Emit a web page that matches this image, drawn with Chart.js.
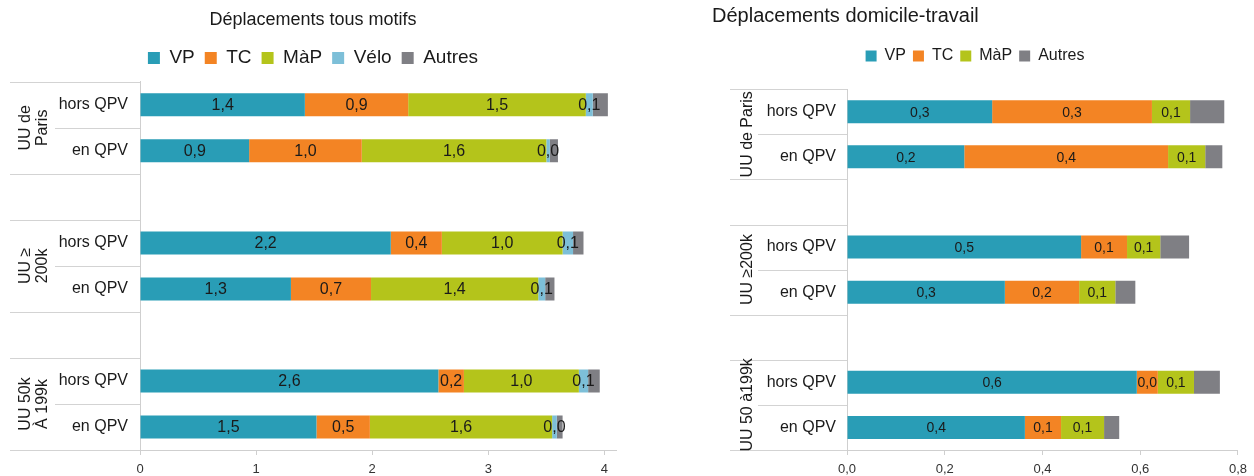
<!DOCTYPE html>
<html>
<head>
<meta charset="utf-8">
<script src="https://cdn.jsdelivr.net/npm/chart.js@4/dist/chart.umd.min.js"></script>
<style>
body { margin: 0; background: #fff; }
canvas { position: absolute; top: 0; }
</style>
</head>
<body>
<canvas id="c1" width="627" height="476" style="left:0"></canvas>
<canvas id="c2" width="554" height="476" style="left:700px"></canvas>
<script>
const categories = ['hors QPV', 'en QPV', '', 'hors QPV', 'en QPV', '', 'hors QPV', 'en QPV'];
const groupsLeft = [['UU de', 'Paris'], ['UU ≥', '200k'], ['UU 50k', 'À 199k']];
const groupsRight = [['UU de Paris'], ['UU ≥200k'], ['UU 50 à199k']];
const names = ['VP', 'TC', 'MàP', 'Vélo', 'Autres'];
const colors = ['#299db6', '#f38424', '#b4c41b', '#7dbfd8', '#7f7f84'];

// Déplacements tous motifs
const vp = [1.42, 0.94, null, 2.16, 1.30, null, 2.57, 1.52];
const tc = [0.89, 0.97, null, 0.44, 0.69, null, 0.22, 0.46];
const map = [1.53, 1.59, null, 1.04, 1.44, null, 0.99, 1.57];
const velo = [0.06, 0.03, null, 0.09, 0.06, null, 0.08, 0.04];
const autres = [0.13, 0.07, null, 0.09, 0.08, null, 0.10, 0.05];
const ticksLeft = [0, 1, 2, 3, 4];

// Déplacements domicile-travail
const vp2 = [0.297, 0.24, null, 0.479, 0.323, null, 0.593, 0.364];
const tc2 = [0.327, 0.417, null, 0.094, 0.152, null, 0.043, 0.074];
const map2 = [0.078, 0.076, null, 0.068, 0.074, null, 0.074, 0.088];
const autres2 = [0.07, 0.035, null, 0.059, 0.041, null, 0.053, 0.031];
const ticksRight = [0, 0.2, 0.4, 0.6, 0.8];

Chart.defaults.font.family = "'Liberation Sans', Arial, sans-serif";
Chart.defaults.color = '#1a1a1a';

const fmt = v => v.toFixed(1).replace('.', ',');

// lines of the label table + rotated group names
const tablePlugin = {
    id: 'table',
    afterDraw(chart, args, o) {
        const { ctx, chartArea: ca, scales: { y } } = chart;
        const half = (y.getPixelForValue(1) - y.getPixelForValue(0)) / 2;
        ctx.save();
        ctx.strokeStyle = '#d3d3d3';
        ctx.lineWidth = 1;
        for (let b = 0; b <= categories.length; b++) {
            const py = Math.round(y.getPixelForValue(b) - half) + 0.5;
            ctx.beginPath();
            ctx.moveTo(b % 3 === 1 ? o.inner : o.left, py);
            ctx.lineTo(ca.left, py);
            ctx.stroke();
        }
        ctx.fillStyle = '#1a1a1a';
        ctx.font = o.font;
        ctx.textAlign = 'center';
        ctx.textBaseline = 'middle';
        o.groups.forEach((g, i) => {
            const cy = y.getPixelForValue(i * 3) + half;
            ctx.save();
            ctx.translate(o.x, cy);
            ctx.rotate(-Math.PI / 2);
            g.forEach((line, j) => ctx.fillText(line, 0, (j - (g.length - 1) / 2) * o.lineH));
            ctx.restore();
        });
        ctx.restore();
    }
};

// value labels in the middle of each segment (not for Autres)
const valuePlugin = {
    id: 'values',
    afterDatasetsDraw(chart, args, o) {
        const ctx = chart.ctx;
        ctx.save();
        ctx.font = o.font;
        ctx.fillStyle = '#1a1a1a';
        ctx.textAlign = 'center';
        ctx.textBaseline = 'middle';
        chart.data.datasets.forEach((ds, i) => {
            if (ds.label === 'Autres') return;
            chart.getDatasetMeta(i).data.forEach((el, j) => {
                const v = ds.data[j];
                if (v == null) return;
                const p = el.getProps(['x', 'base', 'y'], true);
                ctx.fillText(fmt(v), (p.x + p.base) / 2, p.y + 1);
            });
        });
        ctx.restore();
    }
};

function makeChart(id, series, opt) {
    const datasets = series.map((data, i) => ({
        label: opt.names[i],
        data: data,
        backgroundColor: opt.colors[i],
        borderWidth: 0,
        categoryPercentage: 1,
        barPercentage: opt.barPct,
    }));
    return new Chart(document.getElementById(id), {
        type: 'bar',
        data: { labels: categories, datasets: datasets },
        options: {
            indexAxis: 'y',
            responsive: false,
            animation: false,
            layout: { padding: opt.padding },
            plugins: {
                title: {
                    display: true,
                    text: opt.title,
                    align: opt.titleAlign,
                    color: '#1a1a1a',
                    font: { size: opt.titleSize, weight: 'normal' },
                    padding: opt.titlePad,
                },
                // empty spacer between legend and plot
                subtitle: {
                    display: true,
                    text: '',
                    weight: 500,
                    font: { size: 1 },
                    padding: { top: opt.gap, bottom: 0 },
                },
                legend: {
                    labels: {
                        color: '#1a1a1a',
                        font: { size: opt.legendSize },
                        boxWidth: opt.box,
                        boxHeight: opt.box,
                        padding: opt.legendPad,
                    },
                },
                tooltip: { enabled: false },
                table: opt.table,
                values: { font: opt.valueFont },
            },
            scales: {
                x: {
                    stacked: true,
                    min: 0,
                    max: opt.max,
                    grid: { drawOnChartArea: false, color: '#cfcfcf', tickLength: 5 },
                    border: { color: '#cfcfcf' },
                    ticks: {
                        color: '#333',
                        font: { size: 13 },
                        padding: 7,
                        callback: opt.tickFmt,
                    },
                    afterBuildTicks: s => { s.ticks = opt.ticks.map(v => ({ value: v })); },
                    afterFit: s => { s.height = 26; },
                },
                y: {
                    stacked: true,
                    grid: { display: false, drawTicks: false },
                    border: { color: '#cfcfcf' },
                    ticks: { color: '#1a1a1a', font: { size: 16 }, padding: opt.yPad },
                    afterFit: s => { s.width = opt.yWidth; },
                },
            },
        },
        plugins: [tablePlugin, valuePlugin],
    });
}

makeChart('c1', [vp, tc, map, velo, autres], {
    names: names,
    colors: colors,
    barPct: 0.5,
    title: 'Déplacements tous motifs',
    titleAlign: 'center',
    titleSize: 18,
    titlePad: { top: 9, bottom: 8 },
    legendSize: 19,
    box: 12,
    legendPad: 10,
    gap: 3,
    padding: { left: 10, right: 11, top: 0, bottom: 0 },
    max: 4.1,
    ticks: ticksLeft,
    tickFmt: v => String(v),
    yWidth: 130,
    yPad: 12,
    valueFont: "16px 'Liberation Sans', Arial, sans-serif",
    table: { left: 10, inner: 55, x: 34, lineH: 17, groups: groupsLeft, font: "16px 'Liberation Sans', Arial, sans-serif" },
});

makeChart('c2', [vp2, tc2, map2, autres2], {
    names: ['VP', 'TC', 'MàP', 'Autres'],
    colors: [colors[0], colors[1], colors[2], colors[4]],
    barPct: 0.51,
    title: 'Déplacements domicile-travail',
    titleAlign: 'start',
    titleSize: 20,
    titlePad: { top: 4, bottom: 13 },
    legendSize: 16,
    box: 11,
    legendPad: 7,
    gap: 14,
    padding: { left: 12, right: 16, top: 0, bottom: 0 },
    max: 0.8,
    ticks: ticksRight,
    tickFmt: v => fmt(v),
    yWidth: 135,
    yPad: 11,
    valueFont: "14px 'Liberation Sans', Arial, sans-serif",
    table: { left: 30, inner: 58, x: 48, lineH: 17, groups: groupsRight, font: "16px 'Liberation Sans', Arial, sans-serif" },
});
</script>
</body>
</html>
